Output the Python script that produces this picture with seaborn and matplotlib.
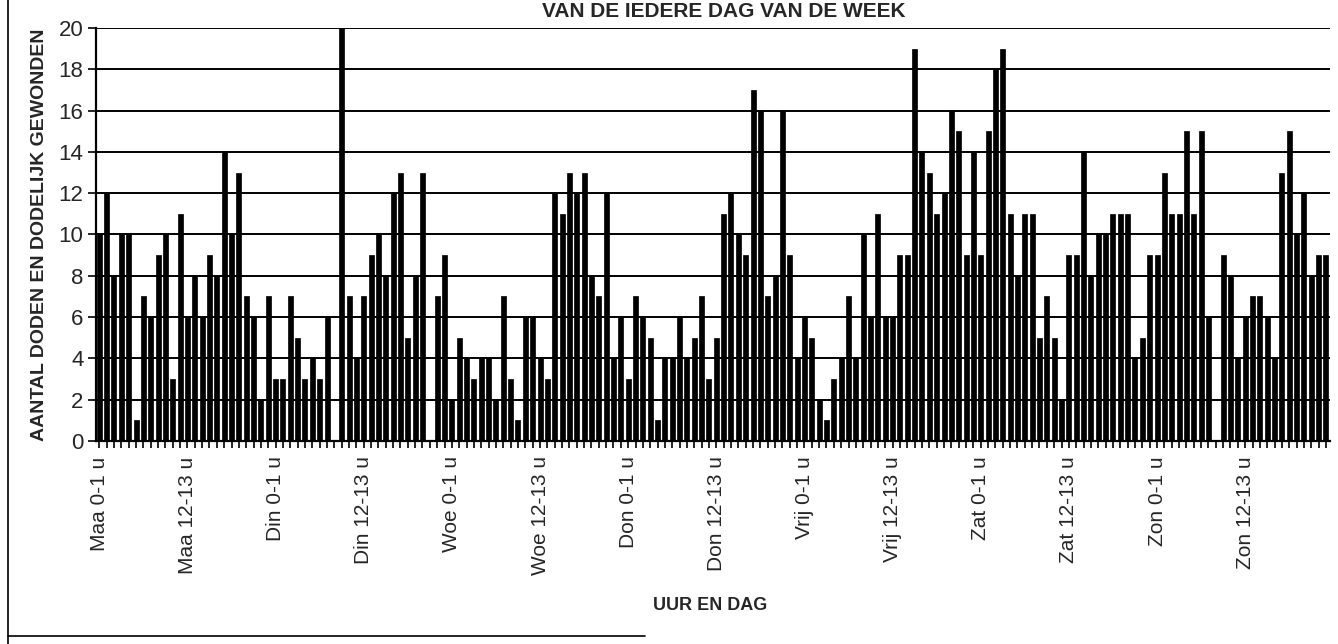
import matplotlib
matplotlib.use('Agg')
import matplotlib.pyplot as plt
import pandas as pd
import seaborn as sns
from matplotlib.lines import Line2D

# data: one value per hour, per day
days = ['Maa', 'Din', 'Woe', 'Don', 'Vrij', 'Zat', 'Zon']
maa = [10, 12, 8, 10, 10, 1, 7, 6, 9, 10, 3, 11, 6, 8, 6, 9, 8, 14, 10, 13, 7, 6, 2, 7]
din = [3, 3, 7, 5, 3, 4, 3, 6, 0, 20, 7, 4, 7, 9, 10, 8, 12, 13, 5, 8, 13, 0, 7, 9]
woe = [2, 5, 4, 3, 4, 4, 2, 7, 3, 1, 6, 6, 4, 3, 12, 11, 13, 12, 13, 8, 7, 12, 4, 6]
don = [3, 7, 6, 5, 1, 4, 4, 6, 4, 5, 7, 3, 5, 11, 12, 10, 9, 17, 16, 7, 8, 16, 9, 4]
vrij = [6, 5, 2, 1, 3, 4, 7, 4, 10, 6, 11, 6, 6, 9, 9, 19, 14, 13, 11, 12, 16, 15, 9, 14]
zat = [9, 15, 18, 19, 11, 8, 11, 11, 5, 7, 5, 2, 9, 9, 14, 8, 10, 10, 11, 11, 11, 4, 5, 9]
zon = [9, 13, 11, 11, 15, 11, 15, 6, 0, 9, 8, 4, 6, 7, 7, 6, 4, 13, 15, 10, 12, 8, 9, 9]
values = [maa, din, woe, don, vrij, zat, zon]

labels = []
counts = []
for d, vals in zip(days, values):
    for h, v in enumerate(vals):
        labels.append(f'{d} {h}-{h + 1} u')
        counts.append(v)
df = pd.DataFrame({'uur': labels, 'aantal': counts})

sns.set_style('white')
plt.rcParams['font.family'] = ['Liberation Sans', 'DejaVu Sans']

fig = plt.figure(figsize=(13.38, 6.44), dpi=100)
ax = fig.add_axes([96 / 1338, 1 - 441 / 644, 1234 / 1338, 413 / 644])

sns.barplot(data=df, x='uur', y='aantal', color='black', width=0.68,
            saturation=1, edgecolor='black', linewidth=0.5, ax=ax, zorder=3)

ax.set_ylim(0, 20)
ax.set_xlim(-0.45, len(df) - 0.45)
ax.set_yticks(range(0, 21, 2))
ax.tick_params(axis='y', labelsize=16, length=6, direction='out', color='black', width=1.2, pad=3)
ax.yaxis.grid(True, color='black', linewidth=1.4, zorder=1)
ax.set_axisbelow(True)

ax.set_xticks(range(len(df)))
ax.set_xticklabels([lab if i % 12 == 0 else '' for i, lab in enumerate(labels)],
                   rotation=90, fontsize=15)
ax.tick_params(axis='x', length=5, width=1.2, color='black', direction='out', pad=6)
ax.tick_params(left=True, bottom=True)

for side in ['top', 'right']:
    ax.spines[side].set_visible(False)
for side in ['left', 'bottom']:
    ax.spines[side].set_color('black')
    ax.spines[side].set_linewidth(1.6)

ax.set_ylabel('AANTAL DODEN EN DODELIJK GEWONDEN', fontsize=14, fontweight='bold')
ax.yaxis.set_label_coords(-48 / 1234, 0.5)
ax.set_xlabel('')
fig.text(710 / 1338, 1 - 606 / 644, 'UUR EN DAG', fontsize=13, fontweight='bold',
         ha='center', va='center')

# title at the top edge of the picture
fig.text(724 / 1338, 1 - 17 / 644, 'VAN DE IEDERE DAG VAN DE WEEK', fontsize=15,
         fontweight='bold', ha='center', va='baseline')

# frame around the chart
fig.add_artist(Line2D([8 / 1338, 8 / 1338], [0, 1], color='black', linewidth=1.2,
                      transform=fig.transFigure))
fig.add_artist(Line2D([8 / 1338, 645 / 1338], [1 - 636 / 644, 1 - 636 / 644],
                      color='black', linewidth=1.2, transform=fig.transFigure))

fig.savefig('out.png', dpi=100)
